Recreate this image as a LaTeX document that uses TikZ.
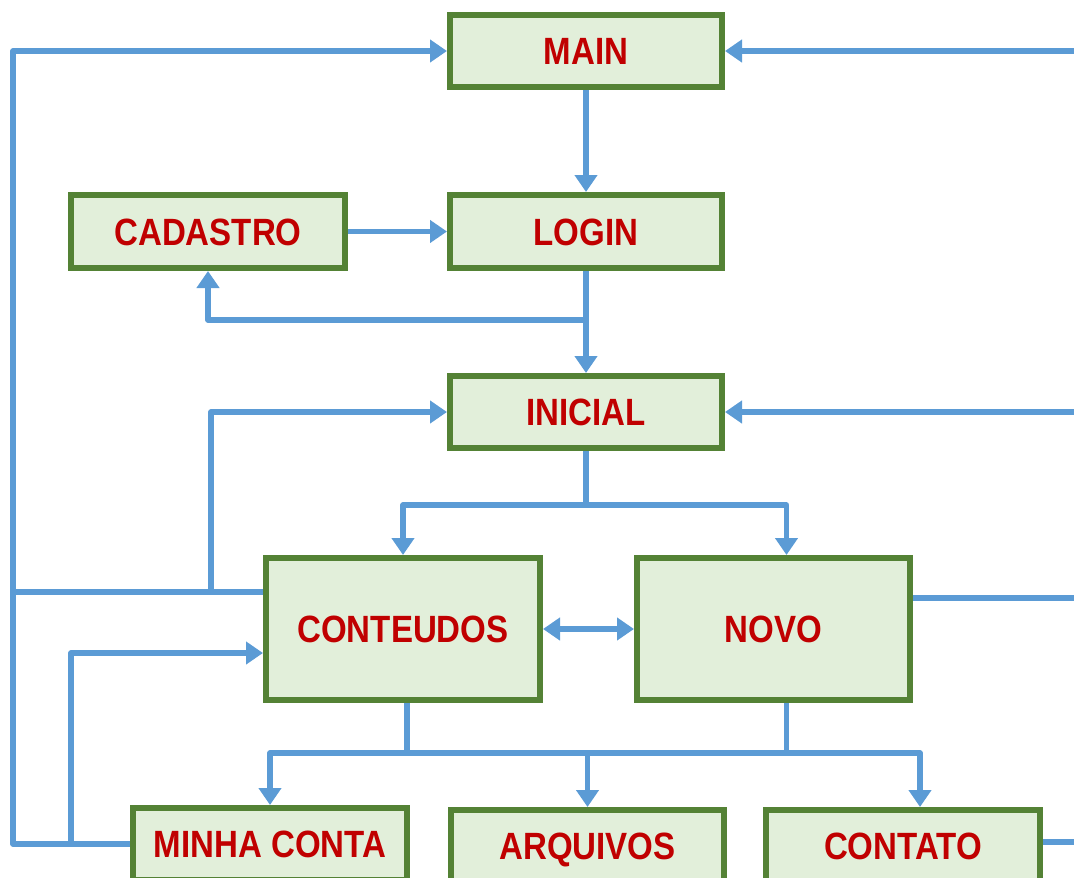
\documentclass[tikz,border=0pt]{standalone}
\usepackage{fontspec}
\usetikzlibrary{arrows.meta}
\newfontfamily\lblfont{Liberation Sans}
\definecolor{boxgreen}{HTML}{548235}
\definecolor{boxfill}{HTML}{E2EFDA}
\definecolor{txtred}{HTML}{C00000}
\definecolor{lnblue}{HTML}{5B9BD5}
\newcommand{\bt}[1]{\scalebox{0.87}[1]{#1}}
\tikzset{
  pbox/.style={draw=boxgreen, line width=6pt, fill=boxfill, inner sep=0pt,
    text height=27pt, text depth=0pt,
    text=txtred, font=\lblfont\bfseries\fontsize{38}{40}\selectfont},
  line/.style={draw=lnblue, line width=5.5pt, line join=round},
  arr/.style={line, -{Triangle[length=17pt,width=22pt]}},
  darr/.style={line, {Triangle[length=17pt,width=22pt]}-{Triangle[length=17pt,width=22pt]}},
}
\begin{document}
\begin{tikzpicture}[x=1pt,y=-1pt]
\useasboundingbox (0,0) rectangle (1074,878);
\clip (0,0) rectangle (1074,878);
% boxes
\node[pbox, minimum width=272pt, minimum height=72pt] (main) at (586,51) {\bt{MAIN}};
\node[pbox, minimum width=274pt, minimum height=73pt] (cadastro) at (208,231.5) {\bt{CADASTRO}};
\node[pbox, minimum width=272pt, minimum height=73pt] (login) at (586,231.5) {\bt{LOGIN}};
\node[pbox, minimum width=272pt, minimum height=72pt] (inicial) at (586,412) {\bt{INICIAL}};
\node[pbox, minimum width=274pt, minimum height=142pt] (conteudos) at (403,629) {\bt{CONTEUDOS}};
\node[pbox, minimum width=273pt, minimum height=142pt] (novo) at (773.5,629) {\bt{NOVO}};
\node[pbox, minimum width=274pt, minimum height=72pt] (minha) at (270,844) {\bt{MINHA CONTA}};
\node[pbox, minimum width=273pt, minimum height=72pt] (arquivos) at (587.5,846) {\bt{ARQUIVOS}};
\node[pbox, minimum width=274pt, minimum height=72pt] (contato) at (903,846) {\bt{CONTATO}};
% junction coordinates
\coordinate (lx) at (13,400);
\coordinate (j1) at (211,592);
\coordinate (j2) at (71,844);
\coordinate (j3) at (586,320);
\coordinate (j4) at (586,505);
\coordinate (j5) at (407,753);
\coordinate (j6) at (786.5,753);
\coordinate (rmain) at (1080,51);
\coordinate (rini) at (1080,412);
\coordinate (rnovo) at (1080,598);
\coordinate (rcont) at (1080,842);
% connectors
\draw[arr] (main.south) -- (login.north);
\draw[arr] (cadastro.east) -- (login.west);
\draw[arr] (login.south) -- (inicial.north);
\draw[arr] (j3) -| (cadastro.south);
\draw[arr] (minha.west) -| (lx) |- (main.west);
\draw[line] ([yshift=37pt]conteudos.west) -- (lx |- j1);
\draw[arr] (j1) |- (inicial.west);
\draw[arr] (j2) |- ([yshift=-24pt]conteudos.west);
\draw[line] (inicial.south) -- (j4);
\draw[arr] (j4) -| (conteudos.north);
\draw[arr] (j4) -| ([xshift=13pt]novo.north);
\draw[darr] (conteudos.east) -- (novo.west);
\draw[line] ([xshift=4pt]conteudos.south) -- (j5);
\draw[line] ([xshift=13pt]novo.south) -- (j6);
\draw[arr] (j5) -| (minha.north);
\draw[arr] (j5) -| ([xshift=17pt]contato.north);
\draw[arr] (arquivos.north |- j5) -- (arquivos.north);
\draw[arr] (rmain) -- (main.east);
\draw[arr] (rini) -- (inicial.east);
\draw[line] ([yshift=31pt]novo.east) -- (rnovo);
\draw[line] ([yshift=4pt]contato.east) -- (rcont);
\end{tikzpicture}
\end{document}
